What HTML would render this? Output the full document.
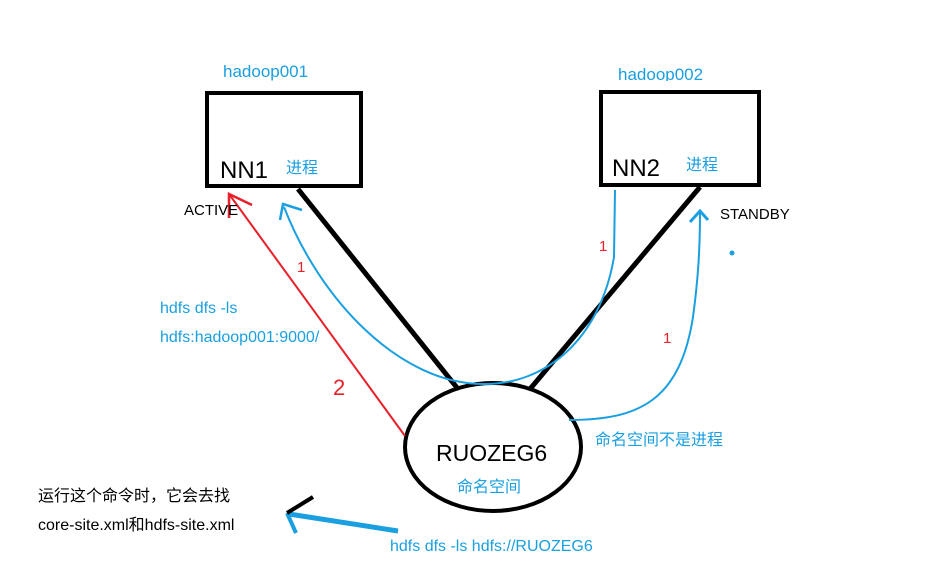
<!DOCTYPE html>
<html><head><meta charset="utf-8"><style>
html,body{margin:0;padding:0;background:#fff;}
svg{display:block;}
text{font-family:"Liberation Sans","Noto Sans CJK SC",sans-serif;}
</style></head><body>
<svg width="943" height="582" viewBox="0 0 943 582" xmlns="http://www.w3.org/2000/svg">
<rect width="943" height="582" fill="#fff"/>
<!-- boxes -->
<rect x="207" y="93" width="154" height="93" fill="none" stroke="#000" stroke-width="4"/>
<rect x="601" y="92" width="158" height="93" fill="none" stroke="#000" stroke-width="4"/>
<!-- black lines -->
<line x1="298" y1="189" x2="458" y2="389" stroke="#000" stroke-width="5"/>
<line x1="700" y1="187" x2="530" y2="389" stroke="#000" stroke-width="5"/>
<!-- ellipse -->
<ellipse cx="493" cy="447" rx="88" ry="64" fill="none" stroke="#000" stroke-width="4"/>
<!-- red arrow -->
<line x1="229" y1="194" x2="405" y2="436" stroke="#e8202a" stroke-width="2"/>
<polyline points="252,205 229,194 229,218" fill="none" stroke="#e8202a" stroke-width="2.5"/>
<!-- blue curves -->
<path d="M615,190 L614,257 C600,340 545,385 483,384 C400,384 320,300 284,207" fill="none" stroke="#1a9fe0" stroke-width="2"/>
<polyline points="302,210 283,204 280,220" fill="none" stroke="#1a9fe0" stroke-width="2.5"/>
<path d="M569,420 C640,420 680,400 693,317 C698,280 700,250 700,212" fill="none" stroke="#1a9fe0" stroke-width="2"/>
<polyline points="690,222 700,211 708,220" fill="none" stroke="#1a9fe0" stroke-width="3"/>
<circle cx="732" cy="253" r="2.5" fill="#1a9fe0"/>
<!-- bottom arrow -->
<line x1="398" y1="531" x2="289" y2="514" stroke="#1a9fe0" stroke-width="5"/>
<line x1="287" y1="513" x2="296" y2="533" stroke="#1a9fe0" stroke-width="4"/>
<line x1="287" y1="513" x2="313" y2="497" stroke="#000" stroke-width="4"/>
<!-- texts -->
<text x="223" y="77" font-size="17" fill="#1a9fe0">hadoop001</text>
<text x="618" y="80" font-size="17" fill="#1a9fe0">hadoop002</text>
<rect x="610" y="81" width="120" height="8" fill="#fff"/>
<text x="220" y="178" font-size="24" fill="#000">NN1</text>
<text x="286" y="173" font-size="16" fill="#1a9fe0">进程</text>
<text x="612" y="176" font-size="24" fill="#000">NN2</text>
<text x="686" y="170" font-size="16" fill="#1a9fe0">进程</text>
<text x="184" y="215" font-size="15" fill="#000">ACTIVE</text>
<text x="720" y="219" font-size="15" fill="#000">STANDBY</text>
<text x="297" y="272" font-size="15" fill="#e8202a">1</text>
<text x="599" y="251" font-size="15" fill="#e8202a">1</text>
<text x="663" y="343" font-size="15" fill="#e8202a">1</text>
<text x="333" y="395" font-size="22" fill="#e8202a">2</text>
<text x="160" y="313" font-size="16" fill="#1a9fe0">hdfs dfs -ls</text>
<text x="160" y="342" font-size="16" fill="#1a9fe0">hdfs:hadoop001:9000/</text>
<text x="436" y="461" font-size="23" fill="#000">RUOZEG6</text>
<text x="457" y="492" font-size="16" fill="#1a9fe0">命名空间</text>
<text x="595" y="445" font-size="16" fill="#1a9fe0">命名空间不是进程</text>
<text x="38" y="501" font-size="16" fill="#000">运行这个命令时，它会去找</text>
<text x="38" y="530" font-size="16" fill="#000">core-site.xml和hdfs-site.xml</text>
<text x="390" y="551" font-size="16" fill="#1a9fe0">hdfs dfs -ls hdfs://RUOZEG6</text>
</svg>
</body></html>
